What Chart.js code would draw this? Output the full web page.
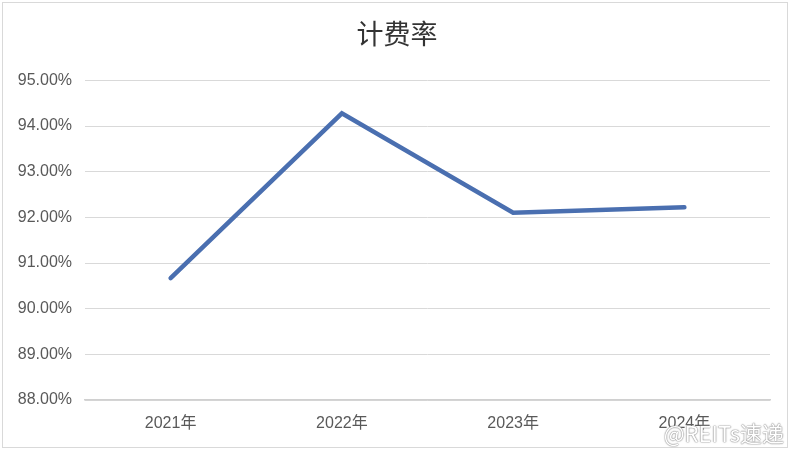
<!DOCTYPE html>
<html>
<head>
<meta charset="utf-8">
<script src="https://cdn.jsdelivr.net/npm/chart.js@4.4.1/dist/chart.umd.min.js"></script>
<style>
  html, body { margin: 0; padding: 0; background: #fff; }
  #wrap { position: relative; width: 794px; height: 452px; }
  #frame { position: absolute; left: 2px; top: 2px; width: 786px; height: 446px; border: 1px solid #d9d9d9; box-sizing: border-box; pointer-events: none; }
  #wm { position: absolute; right: 10px; bottom: 4px; font: 22px "Noto Sans CJK SC", sans-serif; color: #fff; text-shadow: 0 0 1px #888, 0 0 1px #888, 0 0 2px #aaa; }
</style>
</head>
<body>
<div id="wrap">
  <canvas id="c" width="794" height="452"></canvas>
  <div id="frame"></div>
  <div id="wm">@REITs速递</div>
</div>
<script>
const categories = ["2021年", "2022年", "2023年", "2024年"];
const rateValues = [90.67, 94.28, 92.10, 92.22];
const yTicks = [88, 89, 90, 91, 92, 93, 94, 95];

const centerTitle = {
  id: 'centerTitle',
  afterLayout(chart) {
    if (chart.titleBlock) { chart.titleBlock.left = 24; chart.titleBlock.right = 770; }
  }
};

const ctx = document.getElementById('c').getContext('2d');
new Chart(ctx, {
  type: 'line',
  data: {
    labels: categories,
    datasets: [{
      label: '计费率',
      data: rateValues,
      borderColor: '#4a6fb0',
      borderWidth: 4.5,
      pointRadius: 0,
      tension: 0,
      fill: false,
      borderCapStyle: 'round'
    }]
  },
  plugins: [centerTitle],
  options: {
    responsive: false,
    animation: false,
    devicePixelRatio: 1,
    layout: { padding: { left: 0, right: 24, top: 0, bottom: 0 } },
    plugins: {
      legend: { display: false },
      tooltip: { enabled: false },
      title: {
        display: true,
        text: '计费率',
        color: '#333333',
        font: { family: '"Noto Sans CJK SC", sans-serif', size: 27, weight: 'normal' },
        padding: { top: 18, bottom: 30 }
      }
    },
    scales: {
      x: {
        offset: true,
        grid: { display: false, drawTicks: false },
        border: { display: true, color: '#d0d0d0', width: 1.5 },
        ticks: {
          color: '#595959',
          font: { family: '"Liberation Sans", "Noto Sans CJK SC", sans-serif', size: 16 },
          padding: 14,
          maxRotation: 0
        },
        afterFit: s => { s.height = 52; }
      },
      y: {
        min: 88, max: 95,
        afterBuildTicks: s => { s.ticks = yTicks.map(v => ({ value: v })); },
        grid: { color: '#d9d9d9', lineWidth: 1, drawTicks: false },
        border: { display: false },
        ticks: {
          color: '#595959',
          font: { family: '"Liberation Sans", sans-serif', size: 16 },
          padding: 13,
          callback: v => v.toFixed(2) + '%'
        },
        afterFit: s => { s.width = 85; }
      }
    }
  }
});
</script>
</body>
</html>
